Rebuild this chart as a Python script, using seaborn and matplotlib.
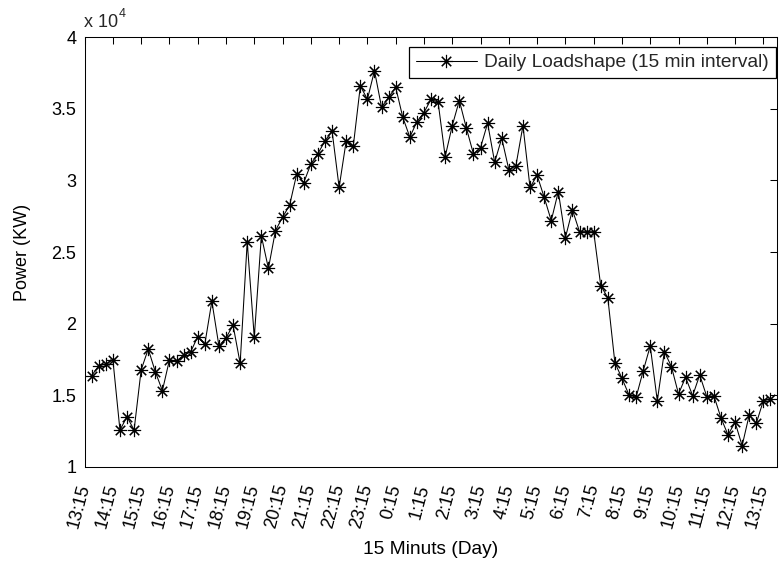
import numpy as np
import pandas as pd
import matplotlib
matplotlib.use("Agg")
import matplotlib.pyplot as plt
import seaborn as sns
from matplotlib.ticker import FixedLocator, FuncFormatter

# Load readings (kW), one per 15-minute slot from 13:15 to 13:15 the next day
slot = np.arange(1, 98)
load_kw = [
    16360, 17060, 17160, 17480, 12560, 13490, 12560, 16760, 18220, 16640,
    15310, 17460, 17390, 17780, 18020, 19080, 18550, 21560, 18430, 19000,
    19880, 17230, 25700, 19040, 26120, 23850, 26500, 27430, 28270, 30450,
    29850, 31150, 31870, 32760, 33460, 29520, 32760, 32390, 36600, 35670,
    37670, 35110, 35810, 36510, 34420, 33020, 34110, 34740, 35670, 35460,
    31660, 33830, 35580, 33650, 31850, 32290, 34000, 31270, 32950, 30760,
    31020, 33830, 29510, 30360, 28830, 27190, 29220, 26000, 27940, 26420,
    26420, 26420, 22650, 21810, 17270, 16180, 15010, 14850, 16680, 18430,
    14610, 18040, 16990, 15080, 16250, 14960, 16410, 14890, 14960, 13420,
    12220, 13100, 11470, 13610, 13030, 14610, 14710,
]

# Hourly tick labels along the day
hour_labels = [
    "13:15", "14:15", "15:15", "16:15", "17:15", "18:15", "19:15", "20:15",
    "21:15", "22:15", "23:15", "0:15", "1:15", "2:15", "3:15", "4:15",
    "5:15", "6:15", "7:15", "8:15", "9:15", "10:15", "11:15", "12:15", "13:15",
]
y_ticks = [10000, 15000, 20000, 25000, 30000, 35000, 40000]

df = pd.DataFrame({"slot": slot, "load": load_kw})

sns.set_style("white")
plt.rcParams["font.family"] = ["Liberation Sans", "DejaVu Sans"]
plt.rcParams["axes.linewidth"] = 0.75

fig = plt.figure(figsize=(7.84, 5.67), dpi=100)
ax = fig.add_axes([0.1079, 0.1769, 0.8838, 0.7573])

sns.lineplot(
    data=df, x="slot", y="load", ax=ax,
    color="black", linewidth=0.75,
    marker=(8, 2, 0), markersize=9.5,
    markeredgecolor="black", markeredgewidth=0.8,
    label="Daily Loadshape (15 min interval)",
)

ax.set_xlim(0, 98)
ax.set_ylim(10000, 40000)
ax.xaxis.set_major_locator(FixedLocator(range(0, 4 * len(hour_labels), 4)))
ax.set_xticklabels(hour_labels, rotation=75, ha="right", va="center",
                   rotation_mode="anchor")
ax.yaxis.set_major_locator(FixedLocator(y_ticks))
ax.yaxis.set_major_formatter(FuncFormatter(lambda v, _: f"{v / 1e4:g}"))

for s in ax.spines.values():
    s.set_color("black")
    s.set_linewidth(0.75)

ax.tick_params(axis="both", direction="in", length=5, width=0.75,
               colors="black", labelsize=13, top=True, right=True)
ax.tick_params(axis="x", pad=13)
ax.tick_params(axis="y", pad=6)

ax.set_xlabel("15 Minuts (Day)", fontsize=13.8, color="black")
ax.xaxis.set_label_coords(0.5, -0.174)
ax.set_ylabel("Power (KW)", fontsize=13, color="black")
ax.yaxis.set_label_coords(-0.078, 0.5)

# Exponent marker above the y axis
fig.text(84 / 784, 1 - 27 / 567, "x 10", fontsize=13, ha="left",
         va="baseline")
fig.text(119 / 784, 1 - 17 / 567, "4", fontsize=9, ha="left",
         va="baseline")

leg = ax.legend(loc="upper right", bbox_to_anchor=(0.998, 0.978),
                borderaxespad=0, fontsize=13.8, frameon=True, fancybox=False,
                handlelength=3.2, handletextpad=0.38, borderpad=0.37)
leg.get_frame().set_edgecolor("black")
leg.get_frame().set_linewidth(0.9)
leg.get_frame().set_alpha(1)

fig.savefig("out.png", dpi=100)
